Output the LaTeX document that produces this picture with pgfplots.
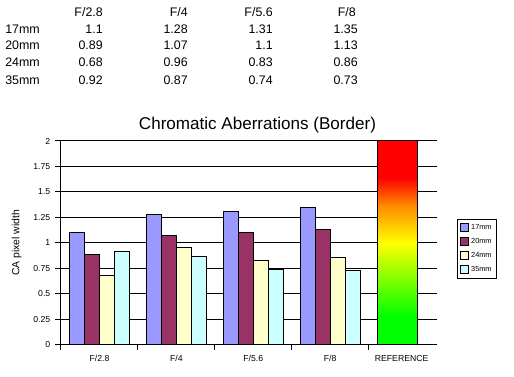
\documentclass[border=0pt]{standalone}
\usepackage{pgfplots}
\pgfplotsset{compat=1.18}
\usepackage{fontspec}
\setmainfont{Liberation Sans}
\definecolor{c17}{HTML}{9999FF}
\definecolor{c20}{HTML}{993366}
\definecolor{c24}{HTML}{FFFFCC}
\definecolor{c35}{HTML}{CCFFFF}
\definecolor{gg}{RGB}{0,255,0}
\definecolor{yy}{RGB}{255,255,0}
\definecolor{oo}{RGB}{255,140,0}
\definecolor{rr}{RGB}{255,0,0}
\pgfdeclareverticalshading{refgrad}{100bp}{color(0bp)=(gg); color(25bp)=(gg); color(32bp)=(gg); color(50bp)=(yy); color(59bp)=(oo); color(66bp)=(rr); color(75bp)=(rr); color(100bp)=(rr)}
\begin{document}
\begin{tikzpicture}[x=0.75pt,y=-0.75pt]
\useasboundingbox (0,0) rectangle (514,377);
\begin{scope}[every node/.style={inner sep=0pt, font=\fontsize{9.3}{11}\selectfont}]
\node[anchor=base east] at (103,16.7) {F/2.8};
\node[anchor=base east] at (188,16.7) {F/4};
\node[anchor=base east] at (273,16.7) {F/5.6};
\node[anchor=base east] at (356,16.7) {F/8};
\node[anchor=base west] at (5,33.3) {17mm};
\node[anchor=base west] at (5,50) {20mm};
\node[anchor=base west] at (5,67) {24mm};
\node[anchor=base west] at (5,84.3) {35mm};
\node[anchor=base east] at (103,33.3) {1.1};
\node[anchor=base east] at (188,33.3) {1.28};
\node[anchor=base east] at (273,33.3) {1.31};
\node[anchor=base east] at (358,33.3) {1.35};
\node[anchor=base east] at (103,50) {0.89};
\node[anchor=base east] at (188,50) {1.07};
\node[anchor=base east] at (273,50) {1.1};
\node[anchor=base east] at (358,50) {1.13};
\node[anchor=base east] at (103,67) {0.68};
\node[anchor=base east] at (188,67) {0.96};
\node[anchor=base east] at (273,67) {0.83};
\node[anchor=base east] at (358,67) {0.86};
\node[anchor=base east] at (103,84.3) {0.92};
\node[anchor=base east] at (188,84.3) {0.87};
\node[anchor=base east] at (273,84.3) {0.74};
\node[anchor=base east] at (358,84.3) {0.73};
\end{scope}
\node[anchor=base, inner sep=0pt, font=\fontsize{12.8}{14}\selectfont] at (257.5,129.5) {Chromatic Aberrations (Border)};
\begin{axis}[
  at={(45.75pt,-258.75pt)}, anchor=south west,
  scale only axis, width=282pt, height=153pt,
  xmin=-0.5, xmax=4.39, ymin=0, ymax=2,
  axis x line=bottom, axis y line=left,
  axis line style={-, line width=0.75pt, black},
  tick align=outside,
  ytick={0,0.25,0.5,0.75,1,1.25,1.5,1.75,2},
  yticklabels={0,0.25,0.5,0.75,1,1.25,1.5,1.75,2},
  ymajorgrids, major grid style={black, line width=0.75pt},
  major tick length=4.5pt, minor tick length=3.75pt,
  xtick={0,1,2,3,3.93},
  xticklabels={F/2.8,F/4,F/5.6,F/8,REFERENCE},
  major x tick style={draw=none},
  minor xtick={-0.5,0.5,1.5,2.5,3.5},
  minor x tick style={black, line width=0.75pt},
  ytick style={black, line width=0.75pt},
  /pgf/number format/assume math mode=true,
  ticklabel style={font=\fontsize{6.5}{7}\selectfont},
  ylabel={CA pixel width},
  every axis y label/.style={at={(axis description cs:-0.118,0.5)}, anchor=center, rotate=90, font=\fontsize{7.8}{9}\selectfont},
  legend style={at={(axis description cs:1.0532,0.6176)}, anchor=north west, draw=black, line width=0.75pt, font=\fontsize{5.5}{6}\selectfont, inner sep=1.5pt, row sep=1.2pt, cells={anchor=west}},
  legend image code/.code={\draw[#1, line width=0.75pt] (0pt,-3pt) rectangle (6pt,3pt);},
  clip=false,
]
\addplot[ybar, bar width=11.25pt, bar shift=-16.875pt, fill=c17, draw=black, line width=0.75pt] coordinates {(0,1.1) (1,1.28) (2,1.31) (3,1.35)};
\addlegendentry{17mm}
\addplot[ybar, bar width=11.25pt, bar shift=-5.625pt, fill=c20, draw=black, line width=0.75pt] coordinates {(0,0.89) (1,1.07) (2,1.1) (3,1.13)};
\addlegendentry{20mm}
\addplot[ybar, bar width=11.25pt, bar shift=5.625pt, fill=c24, draw=black, line width=0.75pt] coordinates {(0,0.68) (1,0.96) (2,0.83) (3,0.86)};
\addlegendentry{24mm}
\addplot[ybar, bar width=11.25pt, bar shift=16.875pt, fill=c35, draw=black, line width=0.75pt] coordinates {(0,0.92) (1,0.87) (2,0.74) (3,0.73)};
\addlegendentry{35mm}
\addplot[ybar, bar width=30pt, bar shift=-7.5pt, shading=refgrad, draw=black, line width=0.75pt, forget plot] coordinates {(4,2)};
\end{axis}
\end{tikzpicture}
\end{document}
